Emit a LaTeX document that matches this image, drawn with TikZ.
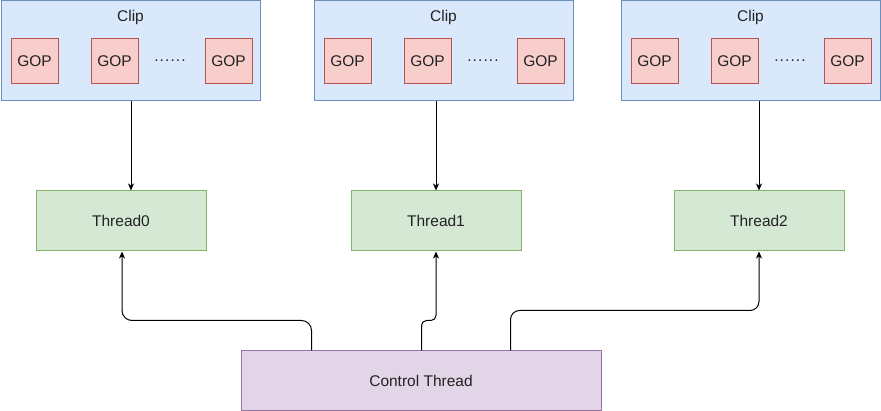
\documentclass[tikz,border=0pt]{standalone}
\usepackage{fontspec}
\setmainfont{Liberation Sans}
\usetikzlibrary{arrows.meta}
\definecolor{clipfill}{HTML}{DAE8FC}
\definecolor{clipdraw}{HTML}{6C8EBF}
\definecolor{gopfill}{HTML}{F8CECC}
\definecolor{gopdraw}{HTML}{B85450}
\definecolor{thfill}{HTML}{D5E8D4}
\definecolor{thdraw}{HTML}{82B366}
\definecolor{ctfill}{HTML}{E1D5E7}
\definecolor{ctdraw}{HTML}{9673A6}
\definecolor{txt}{HTML}{222222}
\newcommand{\gopdots}{.\kern1.1pt.\kern1.1pt.\kern1.1pt.\kern1.1pt.\kern1.1pt.}
\begin{document}
\begin{tikzpicture}[x=1pt,y=-1pt,
  font=\fontsize{15.5}{18}\selectfont, text=txt,
  box/.style={rectangle, line width=1pt, anchor=north west, inner sep=0pt},
  clipbox/.style={box, draw=clipdraw, fill=clipfill, minimum width=259pt, minimum height=100pt},
  gopbox/.style={box, draw=gopdraw, fill=gopfill, minimum width=47pt, minimum height=45pt},
  thbox/.style={box, draw=thdraw, fill=thfill, minimum width=170pt, minimum height=60pt},
  ctbox/.style={box, draw=ctdraw, fill=ctfill, minimum width=360pt, minimum height=60pt},
  arr/.style={line width=1pt, -{Stealth[length=7pt,width=6pt,inset=2pt]}}]
\useasboundingbox (0,0) rectangle (881,411);
% clips
\node[clipbox] (c1) at (0.5,0.5) {};
\node[clipbox] (c2) at (313.5,0.5) {};
\node[clipbox] (c3) at (620.5,0.5) {};
\node (c1t) at ([yshift=-17pt]c1.north) {Clip};
\node (c2t) at ([yshift=-17pt]c2.north) {Clip};
\node (c3t) at ([yshift=-17pt]c3.north) {Clip};
% GOPs
\node[gopbox] (g11) at (10.5,38.5) {};
\node[gopbox] (g12) at (90.5,38.5) {};
\node[gopbox] (g13) at (204.5,38.5) {};
\node[gopbox] (g21) at (323.5,38.5) {};
\node[gopbox] (g22) at (403.5,38.5) {};
\node[gopbox] (g23) at (516.5,38.5) {};
\node[gopbox] (g31) at (630.5,38.5) {};
\node[gopbox] (g32) at (710.5,38.5) {};
\node[gopbox] (g33) at (823.5,38.5) {};
\foreach \g in {g11,g12,g13,g21,g22,g23,g31,g32,g33}{
  \node (\g t) at (\g.center) {GOP};
}
\node[anchor=base] (d1) at (170,62) {\gopdots};
\node[anchor=base] (d2) at (483,62) {\gopdots};
\node[anchor=base] (d3) at (790,62) {\gopdots};
% threads
\node[thbox] (t0) at (35.5,190.5) {};
\node[thbox] (t1) at (350.5,190.5) {};
\node[thbox] (t2) at (673.5,190.5) {};
\node (t0t) at (t0.center) {Thread0};
\node (t1t) at (t1.center) {Thread1};
\node (t2t) at (t2.center) {Thread2};
% control
\node[ctbox] (ct) at (240.5,350.5) {};
\node (ctt) at (ct.center) {Control Thread};
% arrows clip -> thread
\draw[arr] ([xshift=10pt]t0.north |- c1.south) -- ([xshift=10pt]t0.north);
\draw[arr] (t1.north |- c2.south) -- (t1.north);
\draw[arr] (t2.north |- c3.south) -- (t2.north);
% control -> threads
\draw[arr, rounded corners=10pt] ([xshift=71pt]ct.north west) -- ++(0,-30) -| ([xshift=1pt]t0.south);
\draw[arr, rounded corners=5pt] ([xshift=181pt]ct.north west) -- ++(0,-30) -| (t1.south);
\draw[arr, rounded corners=9pt] ([xshift=270pt]ct.north west) -- ++(0,-40) -| (t2.south);
\end{tikzpicture}
\end{document}
